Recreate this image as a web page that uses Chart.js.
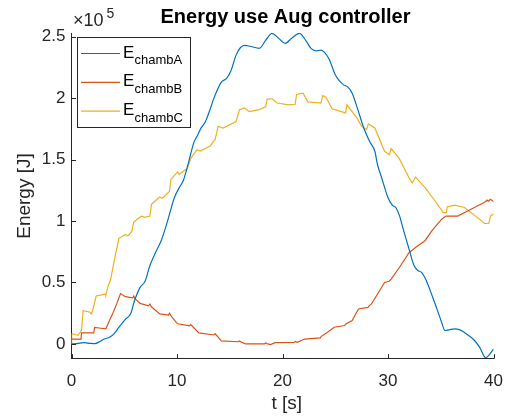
<!DOCTYPE html>
<html>
<head>
<meta charset="utf-8">
<script src="https://cdn.jsdelivr.net/npm/chart.js@4.4.1/dist/chart.umd.min.js"></script>
<style>
  html, body { margin: 0; padding: 0; background: #fff; }
  #wrap { width: 515px; height: 419px; }
</style>
</head>
<body>
<div id="wrap"><canvas id="myChart" width="515" height="419"></canvas></div>
<script>
// time [s] and energy [J]
var tA = [0, 0.5, 1.2, 1.8, 2.2, 2.7, 3.1, 3.6, 4.0, 4.5, 5.1, 5.6, 6.0, 6.5, 7.0, 7.4, 8.0, 8.5, 9.0, 9.75,
          10.2, 10.6, 11.1, 11.6, 11.9, 12.3, 12.7, 13.1, 13.5, 14.2, 14.7, 15.1, 15.6, 16.0, 16.4, 17.0, 17.8, 18.4, 19.0, 19.6,
          20.25, 20.9, 21.6, 22.2, 22.7, 23.2, 23.65, 24.0, 24.4, 25.0, 25.4, 25.8, 26.2, 26.6, 27.2, 27.7, 28.3, 28.75, 29.0, 29.4,
          30.0, 30.4, 30.75, 31.1, 31.4, 32.0, 32.45, 32.8, 33.2, 33.6, 34.0, 34.4, 34.8, 35.1, 35.4, 35.8, 36.3, 36.8, 37.2, 37.7,
          38.2, 38.7, 39.25, 39.55, 40];
var eA = [0, 300, 1000, 500, 300, 2000, 4000, 5500, 8000, 13600, 20000, 24500, 36000, 46000, 51500, 63000, 75000, 84000, 97000, 119000,
          127000, 133000, 148000, 164000, 169000, 176000, 181000, 190000, 200000, 213000, 216000, 222000, 235000, 241000, 243000, 242000, 240500, 247000, 252700, 249000,
          244600, 249000, 252700, 247000, 240500, 238500, 239000, 237000, 232000, 219000, 214000, 210800, 209000, 204000, 189000, 175700, 164000, 156800, 146000, 135000,
          119000, 113000, 110800, 104000, 94600, 77000, 64000, 60000, 58000, 52000, 43400, 34000, 24500, 17000, 10900, 11500, 12300, 11500, 9600, 6500,
          2800, -3000, -11200, -9300, -4000];

var tB = [0, 0.9, 0.95, 2.1, 2.2, 2.6, 3.26, 3.6, 3.9, 4.3, 4.65, 5.1, 5.8, 5.9, 6.0, 6.5, 7.3, 7.43, 7.6, 8.36,
          9.2, 9.28, 9.5, 10.05, 11.2, 11.3, 11.5, 12.07, 13.5, 13.6, 13.8, 14.2, 15.8, 15.9, 16.1, 16.5, 18.3, 18.4, 18.6, 18.86,
          19.3, 21.1, 21.2, 21.4, 22.1, 23.6, 23.65, 24.26, 24.9, 25.9, 25.97, 26.6, 27.2, 28.1, 28.2, 28.43, 29.2, 29.67, 30.1, 30.3,
          31.06, 32.0, 32.4, 32.6, 33.5, 34.15, 35.08, 35.5, 35.6, 36.6, 37.86, 39.1, 39.4, 39.5, 39.7, 40];
var eB = [4000, 4000, 9000, 9000, 13500, 13000, 12300, 19000, 24500, 33000, 41000, 38500, 37500, 39000, 37000, 33000, 31000, 32500, 30000, 24500,
          23500, 25000, 22000, 16400, 14800, 15800, 14000, 9000, 7300, 8300, 6500, 2500, 1800, 2500, 1500, 0, 0, 800, 0, -500,
          1000, 1300, 2000, 1300, 4000, 5000, 6000, 9600, 13600, 15000, 16000, 19000, 28500, 29800, 31000, 32600, 43300, 50000, 51000, 52800,
          62000, 74400, 77000, 78500, 84000, 92000, 101500, 104000, 104000, 104000, 109600, 115000, 117000, 116000, 117700, 116000];

var tC = [0, 0.02, 0.6, 0.95, 1.1, 1.7, 1.87, 2.0, 2.34, 3.2, 3.26, 3.5, 3.7, 4.1, 4.5, 4.65, 5.1, 5.3, 5.42, 5.73,
          5.88, 6.3, 6.65, 6.97, 7.43, 7.58, 8.36, 8.6, 9.28, 9.43, 10.06, 10.2, 11.0, 11.3, 11.9, 12.2, 13.14, 13.46, 13.6, 13.9,
          14.38, 15.6, 15.92, 16.4, 16.85, 17.78, 18.4, 18.55, 19.0, 19.5, 20.55, 21.2, 21.33, 21.95, 22.4, 23.65, 23.8, 24.1, 24.7, 25.97,
          26.1, 27.05, 27.5, 27.97, 28.13, 28.75, 29.67, 30.14, 30.29, 31.06, 32.0, 32.3, 32.6, 33.53, 34.46, 35.24, 35.54, 35.6, 36.3, 37.24,
          38.48, 39.15, 39.55, 39.7, 40];
var eC = [0, 8300, 7000, 11000, 27000, 26000, 24500, 27000, 39000, 40500, 40000, 48000, 52000, 70000, 86000, 86600, 89000, 88000, 88500, 92000,
          98700, 102000, 104000, 103000, 104000, 113600, 119500, 118500, 124000, 134000, 140000, 138000, 143000, 151000, 158000, 157000, 161000, 165000, 166000, 177000,
          175700, 181000, 190600, 192000, 189000, 190600, 193000, 199000, 199500, 196000, 194600, 195000, 203000, 204000, 197000, 196000, 202000, 201000, 191400, 188000,
          194600, 184000, 177000, 174400, 179000, 175700, 156800, 154000, 159000, 151000, 135000, 131000, 135700, 127000, 116300, 106800, 106800, 111400, 113000, 111000,
          102800, 98000, 98000, 104000, 106000];

var seriesNames = ['chambA', 'chambB', 'chambC'];
var seriesColors = ['#0072BD', '#D95319', '#EDB120'];
var xTicks = [0, 10, 20, 30, 40];
var yTicks = [0, 50000, 100000, 150000, 200000, 250000];

var FONT = '"Liberation Sans", Arial, Helvetica, sans-serif';
var AXIS = '#262626';

function pairs(t, e) {
    return t.map(function(v, i) { return {x: v, y: e[i]}; });
}

// MATLAB style bits: inward ticks, legend with subscripts, title and labels
var decorPlugin = {
    id: 'decor',
    afterDraw: function(chart) {
        var ctx = chart.ctx;
        var area = chart.chartArea;
        var xs = chart.scales.x, ys = chart.scales.y;
        ctx.save();

        // inward ticks
        ctx.strokeStyle = AXIS;
        ctx.lineWidth = 1;
        ctx.beginPath();
        xTicks.forEach(function(v) {
            var px = Math.round(xs.getPixelForValue(v)) + 0.5;
            ctx.moveTo(px, area.bottom);
            ctx.lineTo(px, area.bottom - 4.5);
        });
        yTicks.forEach(function(v) {
            var py = Math.round(ys.getPixelForValue(v)) + 0.5;
            ctx.moveTo(area.left, py);
            ctx.lineTo(area.left + 4.5, py);
        });
        ctx.stroke();

        // legend
        ctx.fillStyle = '#fff';
        ctx.fillRect(77.5, 37.5, 113, 90);
        ctx.strokeStyle = AXIS;
        ctx.strokeRect(77.5, 37.5, 113, 90);
        chart.data.datasets.forEach(function(ds, i) {
            var ly = 53.5 + i * 28.8;
            ctx.strokeStyle = ds.borderColor;
            ctx.lineWidth = 1.2;
            ctx.beginPath();
            ctx.moveTo(81, ly);
            ctx.lineTo(120, ly);
            ctx.stroke();
            ctx.fillStyle = '#000';
            ctx.textAlign = 'left';
            ctx.textBaseline = 'alphabetic';
            ctx.font = '17px ' + FONT;
            ctx.fillText('E', 123, ly + 4);
            ctx.font = '13px ' + FONT;
            ctx.fillText(seriesNames[i], 134.5, ly + 10.5);
        });

        // title
        ctx.fillStyle = '#000';
        ctx.textAlign = 'center';
        ctx.font = 'bold 20px ' + FONT;
        ctx.fillText('Energy use Aug controller', 285.5, 22.5);

        // exponent
        ctx.fillStyle = AXIS;
        ctx.textAlign = 'left';
        ctx.font = '18px ' + FONT;
        ctx.fillText('\u00d710', 73, 26);
        ctx.font = '14px ' + FONT;
        ctx.fillText('5', 106.5, 18);

        // axis labels
        ctx.font = '19px ' + FONT;
        ctx.textAlign = 'center';
        ctx.textBaseline = 'middle';
        ctx.fillText('t [s]', 286.7, 404);
        ctx.translate(25, 196);
        ctx.rotate(-Math.PI / 2);
        ctx.fillText('Energy [J]', 0, 0);
        ctx.restore();
    }
};

var config = {
    type: 'line',
    data: {
        datasets: [tA, tB, tC].map(function(t, i) {
            var e = [eA, eB, eC][i];
            return {
                label: 'E' + seriesNames[i],
                data: pairs(t, e),
                borderColor: seriesColors[i],
                backgroundColor: seriesColors[i],
                borderWidth: 1.2,
                pointRadius: 0,
                fill: false,
                tension: 0,
                cubicInterpolationMode: i === 0 ? 'monotone' : 'default'
            };
        })
    },
    options: {
        responsive: false,
        animation: false,
        layout: { padding: { top: 33, right: 11.7, left: 0, bottom: 0 } },
        plugins: {
            legend: { display: false },
            title: { display: false },
            tooltip: { enabled: false }
        },
        scales: {
            x: {
                type: 'linear',
                min: 0,
                max: 40,
                afterBuildTicks: function(s) { s.ticks = xTicks.map(function(v) { return {value: v}; }); },
                afterFit: function(s) { s.height = 60.3; },
                grid: { display: true, drawOnChartArea: false, drawTicks: false },
                border: { display: true, color: AXIS, width: 1 },
                ticks: { color: AXIS, padding: 12, maxRotation: 0, font: { family: FONT, size: 17 } }
            },
            y: {
                type: 'linear',
                min: -12000,
                max: 253000,
                afterBuildTicks: function(s) { s.ticks = yTicks.map(function(v) { return {value: v}; }); },
                afterFit: function(s) { s.width = 71.5; },
                grid: { display: true, drawOnChartArea: false, drawTicks: false },
                border: { display: true, color: AXIS, width: 1 },
                ticks: {
                    color: AXIS,
                    padding: 6,
                    font: { family: FONT, size: 17 },
                    callback: function(v) { return String(v / 100000); }
                }
            }
        }
    },
    plugins: [decorPlugin]
};

window.addEventListener('DOMContentLoaded', function() {
    var ctx = document.getElementById('myChart').getContext('2d');
    window.myLine = new Chart(ctx, config);
});
</script>
</body>
</html>
